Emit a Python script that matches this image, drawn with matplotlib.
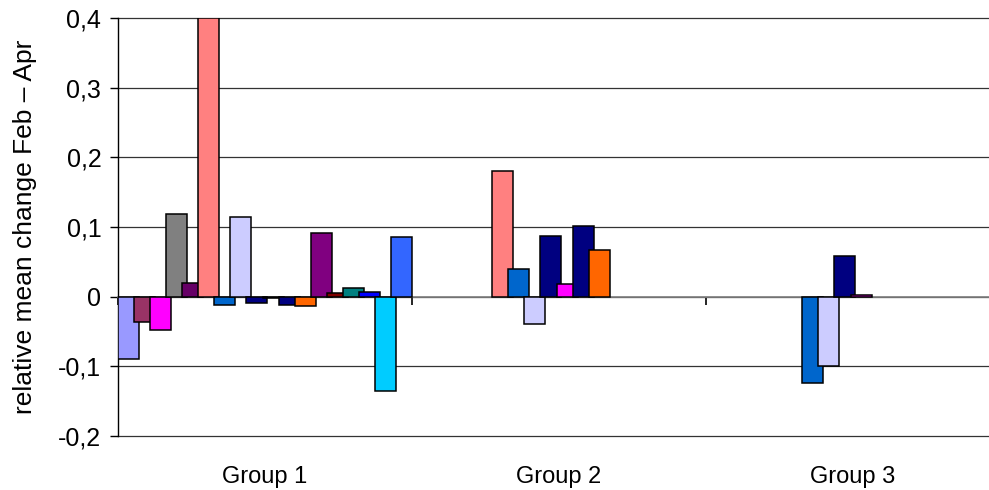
#!/usr/bin/env python3
"""
Relative mean change Feb - Apr, overlapping grouped bars (Excel-like style).
"""

import numpy as np
import matplotlib
matplotlib.use("Agg")
import matplotlib.pyplot as plt

nan = np.nan

groups = ["Group 1", "Group 2", "Group 3"]

# one value per series (18 series), nan where a series has no bar
group1 = [-0.089, -0.037, -0.048, 0.119, 0.020, 0.400, -0.012, 0.115, -0.009,
          -0.002, -0.012, -0.014, 0.092, 0.005, 0.012, 0.007, -0.135, 0.085]
group2 = [nan, nan, nan, nan, nan, 0.181, 0.039, -0.039, 0.087,
          0.018, 0.101, 0.067, nan, nan, nan, nan, nan, nan]
group3 = [nan, nan, nan, nan, nan, nan, -0.124, -0.099, 0.058,
          0.002, nan, nan, nan, nan, nan, nan, nan, nan]

series_colors = ["#9999FF", "#993366", "#FF00FF", "#808080", "#660066", "#FF8080",
                 "#0066CC", "#CCCCFF", "#000080", "#FF00FF", "#000080", "#FF6600",
                 "#800080", "#800000", "#008080", "#0000FF", "#00CCFF", "#3366FF"]

yticks = [-0.2, -0.1, 0.0, 0.1, 0.2, 0.3, 0.4]
ytick_labels = ["-0,2", "-0,1", "0", "0,1", "0,2", "0,3", "0,4"]


def main():
    plt.rcParams["font.family"] = ["Liberation Sans", "DejaVu Sans"]

    fig = plt.figure(figsize=(9.89, 4.90), dpi=100)
    # plot area runs a little past the right edge, as in the original
    ax = fig.add_axes([118 / 989, 1 - 436 / 490, 882 / 989, 418 / 490])

    values = np.array([group1, group2, group3])
    n_series = values.shape[1]
    width = 21 / 294
    step = (1 - width) / (n_series - 1)

    for i in range(n_series):
        x = np.arange(len(groups)) + i * step
        ax.bar(x, values[:, i], width=width, align="edge",
               color=series_colors[i], edgecolor="black", linewidth=1.1,
               zorder=3)

    ax.set_xlim(0, len(groups))
    ax.set_ylim(-0.2, 0.4)
    ax.set_yticks(yticks)
    ax.set_yticklabels(ytick_labels)
    ax.tick_params(axis="y", direction="out", length=6, width=1.0, pad=6,
                   labelsize=18, color="black")

    ax.yaxis.grid(True, color="#333333", linewidth=0.9, zorder=0)
    for line in ax.get_ygridlines():
        line.set_clip_on(False)
    ax.set_axisbelow(True)

    # category axis sits on the zero line, ticks at the category boundaries
    ax.spines["bottom"].set_position(("data", 0))
    ax.spines["bottom"].set_color("#808080")
    ax.spines["bottom"].set_linewidth(1.2)
    ax.spines["bottom"].set_zorder(2)
    ax.spines["top"].set_visible(False)
    ax.spines["right"].set_visible(False)
    ax.spines["left"].set_linewidth(1.0)
    ax.set_xticks(np.arange(len(groups) + 1))
    ax.set_xticklabels([])
    ax.tick_params(axis="x", direction="out", length=6, width=1.2,
                   color="black")

    for c, name in enumerate(groups):
        ax.text(c + 0.5, -0.098, name, transform=ax.get_xaxis_transform(),
                ha="center", va="center", fontsize=17)

    ax.set_ylabel("relative mean change Feb \u2013 Apr", fontsize=19)
    ax.yaxis.set_label_coords(-0.092, 0.5)

    fig.savefig("out.png", dpi=100)
    plt.close(fig)


if __name__ == "__main__":
    main()
